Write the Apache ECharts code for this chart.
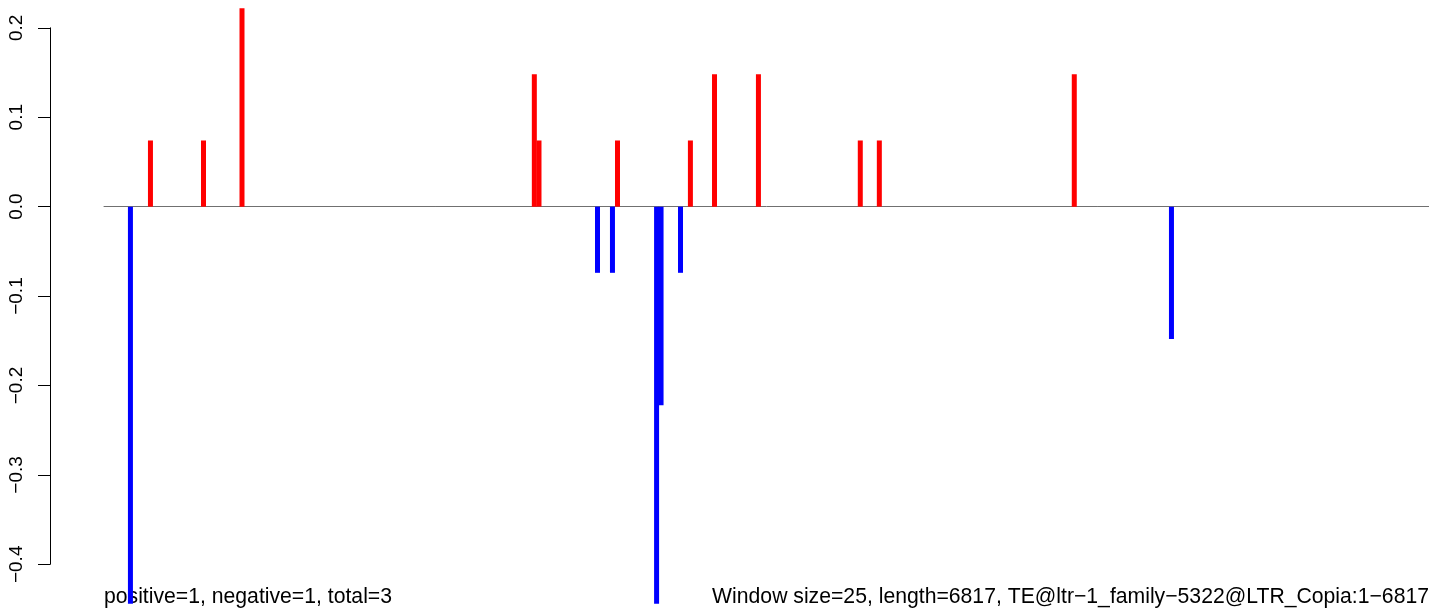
<!DOCTYPE html>
<html>
<head>
<meta charset="utf-8">
<script src="https://cdn.jsdelivr.net/npm/echarts@6/dist/echarts.min.js"></script>
<style>
html,body{margin:0;padding:0;background:#fff;}
#chart{width:1429px;height:609px;}
</style>
</head>
<body>
<div id="chart"></div>
<script>
// Window start positions (bp) and scores
const positions = [136, 239, 512, 710, 2214, 2238, 2539, 2616, 2642, 2843, 2866, 2966, 3017, 3141, 3367, 3891, 3989, 4992, 5492];
const values    = [-0.444, 0.074, 0.074, 0.222, 0.148, 0.074, -0.074, -0.074, 0.074, -0.444, -0.222, -0.074, 0.074, 0.148, 0.148, 0.074, 0.074, 0.148, -0.148];
const seqLength = 6817;
const yTickMin = -0.4, yTickMax = 0.2, yTickStep = 0.1;
const leftNote  = 'positive=1, negative=1, total=3';
const rightNote = 'Window size=25, length=6817, TE@ltr\u22121_family\u22125322@LTR_Copia:1\u22126817';

const FONT = '"Liberation Sans", Arial, Helvetica, sans-serif';
const dataMin = -0.45, dataMax = 0.23;
const plotTop = 1, plotH = 608;
const k = plotH / (dataMax - dataMin);

const chart = echarts.init(document.getElementById('chart'), null, {renderer: 'canvas'});
chart.setOption({
  animation: false,
  backgroundColor: '#ffffff',
  grid: [
    {left: 50, right: 0, top: plotTop + (dataMax - yTickMax) * k, height: (yTickMax - yTickMin) * k},
    {left: 104, right: 0, top: plotTop, height: plotH}
  ],
  xAxis: [
    {gridIndex: 0, type: 'value', show: false, min: 0, max: 1},
    {gridIndex: 1, type: 'value', min: 0, max: seqLength,
     axisLine: {show: true, onZero: true, lineStyle: {color: '#707070', width: 1}},
     axisTick: {show: false}, axisLabel: {show: false}, splitLine: {show: false}}
  ],
  yAxis: [
    {gridIndex: 0, type: 'value', min: yTickMin, max: yTickMax, interval: yTickStep,
     axisLine: {show: true, lineStyle: {color: '#000', width: 1}},
     axisTick: {show: true, length: 12, inside: false, lineStyle: {color: '#000', width: 1}},
     splitLine: {show: false},
     axisLabel: {rotate: 90, margin: 24, color: '#000', fontSize: 19, fontFamily: FONT,
       formatter: v => (v < -1e-9 ? '\u2212' : '') + Math.abs(v).toFixed(1)}},
    {gridIndex: 1, type: 'value', min: dataMin, max: dataMax, show: false}
  ],
  graphic: [
    {type: 'text', left: 104, top: 587, z: 0,
     style: {text: leftNote, fill: '#000', font: '21.2px ' + FONT}},
    {type: 'text', right: 0, top: 587, z: 0,
     style: {text: rightNote, fill: '#000', font: '21.2px ' + FONT}}
  ],
  series: [{
    type: 'bar', xAxisIndex: 1, yAxisIndex: 1, barWidth: 5, z: 5,
    data: positions.map((p, i) => ({value: [p, values[i]],
      itemStyle: {color: values[i] >= 0 ? '#ff0000' : '#0000ff'}}))
  }]
});
</script>
</body>
</html>
